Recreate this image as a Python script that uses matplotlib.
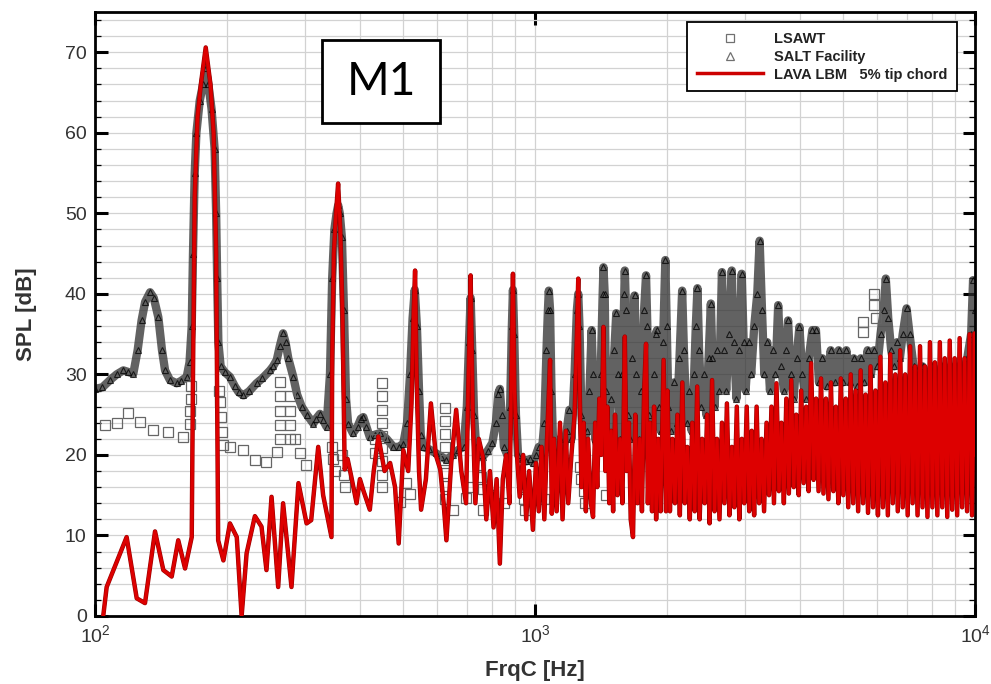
import matplotlib
matplotlib.use("Agg")
import matplotlib.pyplot as plt
import matplotlib.ticker as mticker
from matplotlib.patches import Rectangle
import matplotlib.patheffects as pe

plt.rcParams['font.family'] = ['Liberation Sans', 'DejaVu Sans']

# ---------------- data ----------------
# LSAWT (open squares)
lsawt_f = [105.4, 112, 119, 126.6, 135.6, 146.7, 158.1,
           164, 164, 165, 165,
           191, 192, 193, 194, 195,
           202.6, 217.4, 230.9, 245.3, 258.9,
           263, 263, 263, 263, 263, 277, 277, 277, 277,
           284.8, 292.6, 302,
           345, 348, 352, 365, 368, 370,
           432, 432, 448, 448, 448, 448, 448, 448, 448, 448, 448,
           494, 510, 520,
           625, 625, 625, 625, 625, 625, 625, 625,
           651, 697, 720, 750, 755, 760, 761, 800, 850,
           940, 945, 951, 1000, 1050,
           1265, 1275, 1290, 1300, 1450,
           5560, 5560, 5900, 5900, 5950]
lsawt_spl = [23.7, 24.0, 25.2, 24.1, 23.1, 22.9, 22.2,
             23.9, 25.5, 27.0, 28.6,
             28.0, 26.6, 24.7, 22.8, 21.2,
             21.0, 20.6, 19.4, 19.1, 20.4,
             22.0, 23.7, 25.5, 27.3, 29.0, 22.0, 23.7, 25.5, 27.3,
             22.0, 20.2, 18.7,
             21.0, 19.5, 18.0, 20.0, 17.5, 16.0,
             22.0, 20.3, 28.9, 27.3, 25.6, 24.0, 22.4, 20.8, 19.2, 17.5, 16.0,
             14.2, 16.5, 15.2,
             25.8, 24.2, 22.6, 21.0, 19.4, 17.8, 16.2, 14.5,
             13.2, 14.6, 16.0, 18.8, 17.2, 15.8, 13.2, 15.0, 14.0,
             16.0, 14.5, 13.2, 15.0, 14.5,
             18.5, 17.0, 15.5, 14.0, 15.0,
             36.5, 35.3, 40.0, 38.6, 37.0]

# SALT Facility (open triangles)
salt_f = [100, 104, 108.2, 112, 116, 119, 122.2, 125, 127.6, 130, 133.4, 136, 139.3, 142, 144.3,
          148, 153.3, 157, 161.6, 164, 165.9, 167, 168.5, 170, 173, 176, 178.5, 181, 184, 187,
          188.5, 189.5, 190.7, 193, 197, 202.6, 208, 212, 217.4, 224, 232.9, 240, 249.9, 254, 258.9,
          263, 267.6, 271, 275, 282.2, 288, 294.9, 303, 313.5, 318, 324.5, 330, 335.9, 342, 346,
          350, 354, 357, 360, 364, 368, 372, 376, 385.6, 395, 402, 407.2, 414, 421.3, 432,
          443.7, 460, 476.7, 490, 502, 512, 520, 527, 533, 539, 545, 550, 556, 575, 596,
          612, 629, 650, 668, 688, 700, 708, 714, 720, 727, 735, 750, 761, 780, 800,
          815, 825, 832, 840, 850, 865, 878, 886, 891, 897, 905, 915, 935, 955, 975,
          990, 1005, 1020, 1035, 1050, 1062, 1070, 1075, 1082, 1090, 1100, 1120, 1140, 1160, 1180,
          1197, 1210, 1230, 1245, 1254, 1262, 1275, 1290, 1310, 1330, 1345, 1355, 1370, 1390, 1410,
          1425, 1431, 1440, 1450, 1470, 1490, 1515, 1530, 1545, 1560, 1580, 1595, 1600, 1610, 1625,
          1645, 1665, 1684, 1700, 1720, 1745, 1770, 1788, 1800, 1815, 1835, 1860, 1880, 1894, 1910,
          1930, 1955, 1978, 1992, 2010, 2040, 2070, 2100, 2130, 2160, 2180, 2210, 2240, 2270, 2300,
          2320, 2340, 2360, 2390, 2420, 2450, 2480, 2510, 2530, 2560, 2590, 2620, 2660, 2690, 2720,
          2760, 2800, 2830, 2870, 2910, 2950, 2980, 3010, 3060, 3100, 3150, 3200, 3240, 3280, 3320,
          3370, 3420, 3470, 3520, 3570, 3620, 3680, 3720, 3760, 3810, 3870, 3930, 3990, 4050, 4120,
          4190, 4270, 4350, 4420, 4500, 4600, 4700, 4800, 4900, 5000, 5100, 5200, 5300, 5400, 5500,
          5600, 5700, 5800, 5900, 6000, 6100, 6200, 6270, 6350, 6450, 6550, 6650, 6750, 6850, 6990,
          7100, 7250, 7400, 7600, 7800, 8000, 8200, 8400, 8600, 8800, 9000, 9200, 9400, 9600, 9800,
          9900, 10000]
salt_spl = [28.2, 28.4, 29.3, 30.0, 30.5, 30.3, 30.1, 33, 36.7, 39, 40.2, 39.5, 37.1, 33, 30.5,
            29.3, 28.9, 29.2, 29.7, 31.5, 36, 45, 55, 60, 64, 66, 68, 66, 63, 58,
            50, 42, 34, 31, 30.3, 29.7, 28.5, 27.8, 27.4, 27.9, 28.9, 29.5, 30.5, 31, 31.8,
            33.5, 35.1, 34, 32, 29.7, 27.5, 26.0, 25, 23.9, 24.5, 25.1, 24.3, 23.5, 30, 42,
            48, 50, 51, 50, 47, 38, 27, 23.9, 22.7, 23.5, 24.5, 24.7, 23.5, 22.2, 22.5,
            22.7, 22, 21.0, 21, 21.4, 24, 30, 37, 40.5, 36, 28, 22.5, 21.0, 20.7, 20.2,
            19.8, 19.4, 20, 20.6, 21.0, 26, 34, 39.5, 33, 25, 21, 20, 19.8, 20.5, 21.5,
            24, 27.6, 28.2, 25, 21, 20, 26, 36, 40.5, 35, 25, 20, 19.5, 19.2, 19.5,
            19.0, 20, 21, 20, 24, 33, 38, 40.4, 38, 28, 21, 20, 22, 20.5, 23,
            25.6, 22, 30, 38, 40, 36, 25, 21, 23, 28, 35.5, 30, 22, 21, 30,
            40, 43.3, 40, 28, 21.5, 27, 33, 37.6, 30, 22, 30, 40, 42.9, 38, 25,
            22, 32, 39.8, 30, 22, 28, 38, 42.3, 36, 25, 22.5, 30, 35, 35.5, 26,
            23, 34, 44.2, 36, 26, 23, 29, 24, 32, 40.4, 33, 24, 28, 23, 30,
            36, 40.7, 33, 26, 30, 25, 32, 38.8, 32, 26, 33, 28, 42.7, 33, 28,
            35, 42.9, 34, 27, 33, 42.5, 34, 28, 34, 30, 36, 40, 46.6, 38, 30,
            34, 28, 33, 30, 38.6, 31, 28, 33, 36.7, 30, 27, 32, 35.9, 30, 27,
            32, 35.5, 35.5, 29, 32, 28.5, 33, 29, 33, 29, 33, 29, 32, 28.5, 32,
            29, 33, 30, 33, 31, 35, 38, 41.9, 37, 33, 31, 34, 32, 35, 38.2,
            35, 31, 30.5, 31, 29, 31, 29, 31, 29, 31, 29, 31, 30, 32, 35,
            41.7, 38]

# LAVA LBM 5% tip chord (red line)
lava_f = [104.4, 106.3, 118, 124.4, 129.9, 136.9, 143, 149.4, 154.6, 160.2, 165.9, 167, 168.5, 171,
          174, 178.5, 183, 186, 188.5, 190.5, 195.8, 202.6, 210, 215.4, 221.1, 230.9, 239, 245.3,
          251.9, 260.8, 267.6, 279.6, 290, 302.6, 310, 321.6, 330, 344.7, 346, 349, 353, 356.9,
          361, 365, 368, 369.4, 375, 382.4, 393.1, 400, 407.2, 421.3, 430, 440.5, 455, 468.5,
          480.8, 490, 502,
          515, 524, 530, 533.9, 538, 545, 551, 565, 580, 595, 609, 620, 629, 645, 662, 680,
          697, 705, 714, 722, 732, 745, 761, 775, 790, 805, 818, 832, 845, 860, 875, 884,
          891, 898, 910, 923, 940, 955, 970, 989, 1005, 1020, 1035, 1050, 1065, 1075, 1082, 1092,
          1105, 1120, 1140, 1155, 1175, 1190, 1210, 1230, 1245, 1254, 1262, 1275, 1290, 1305, 1320,
          1340, 1355, 1370, 1385, 1400, 1415, 1431, 1445, 1460, 1475, 1490, 1505, 1520, 1540, 1560,
          1580, 1600, 1615, 1635, 1650, 1670, 1690, 1710, 1730, 1750, 1770, 1788, 1805, 1825, 1845,
          1865, 1885, 1905, 1930, 1960, 1985,
          2000, 2026, 2053, 2080, 2107, 2134, 2162, 2190, 2219, 2248, 2277, 2307, 2337, 2367, 2398,
          2430, 2461, 2493, 2526, 2559, 2592, 2626, 2660, 2695, 2730, 2766, 2802, 2838, 2875, 2913,
          2951, 2989, 3028, 3068, 3108, 3148, 3189, 3231, 3273, 3316, 3359, 3403, 3447, 3492, 3538,
          3584, 3631, 3678, 3726, 3775, 3824, 3874, 3924, 3976, 4027, 4080, 4133, 4187, 4242, 4297,
          4353, 4410, 4467, 4525, 4584, 4644, 4705, 4766, 4828, 4891, 4955, 5019, 5085, 5151, 5218,
          5286, 5355, 5425, 5496, 5567, 5640, 5713, 5788, 5863, 5940, 6017, 6096, 6175, 6256, 6337,
          6420, 6504, 6589, 6675, 6762, 6850, 6939, 7030, 7121, 7214, 7308, 7403, 7500, 7598, 7697,
          7797, 7899, 8002, 8106, 8212, 8319, 8427, 8537, 8649, 8761, 8876, 8991, 9109, 9227, 9348,
          9470, 9593, 9718, 9845, 9973, 10000]
lava_spl = [0, 3.6, 9.8, 2.2, 1.6, 10.5, 5.7, 4.9, 9.4, 5.9, 9.8, 30, 52, 62,
            66, 70.6, 66, 60, 45, 9.4, 6.9, 11.5, 9.8, 0, 7.8, 12.4, 11.1, 5.7,
            14.8, 3.6, 14.0, 3.6, 16.5, 11.5, 11.9, 21.0, 15, 9.8, 32, 45, 50, 53.7,
            48, 38, 24, 18.2, 19.5, 17.3, 14.0, 17, 15.6, 13.2, 18, 22.3, 18, 19.0,
            16.0, 9, 20.6,
            18, 26.4, 38, 42.9, 30, 18, 13.2, 17, 26.4, 20, 18.2, 14, 9.4, 19, 25.6, 18,
            14.0, 28, 42.3, 25, 14.0, 22, 19.8, 12, 18, 11, 17, 6.5, 17, 20, 14, 30,
            42.5, 28, 20, 14.8, 20, 12, 18, 10.7, 19, 13, 21, 12, 22, 28, 31.8, 12.7,
            22, 13, 24, 12, 23, 14, 20, 25, 35, 41.9, 30, 16, 24, 13, 22,
            14, 12.3, 24, 16, 27, 20, 35.9, 18, 26, 14, 23, 13, 25, 15, 22,
            14, 34.7, 18, 24, 12, 9.8, 25, 14, 22, 13, 28, 33.8, 14, 24, 13,
            26, 12, 22, 13, 31.8, 13,
            28, 13, 22, 14, 25, 12.5, 29, 14, 21, 12, 24, 13, 28.5, 12, 22,
            14, 25, 11.5, 29.3, 13, 22, 12, 24, 14, 26.4, 12.5, 21, 13.5, 26, 12,
            22, 14, 26, 13, 23, 12.5, 26, 14, 22, 13, 24, 15, 26, 14, 28.9,
            15.5, 24, 14, 27, 15.2, 29.3, 16, 25, 15, 28, 16.5, 26, 15.5, 31.4, 16.9,
            27, 15.5, 29.5, 15.2, 27, 14.5, 29, 15.5, 26, 14, 29.5, 15, 27, 13.5, 30,
            14, 28, 13, 30.5, 14, 27.5, 12.8, 31, 13.5, 28, 12.5, 32.2, 13.5, 29, 12.5,
            32.5, 14, 30, 13, 33, 13.5, 30, 12.5, 33.5, 14, 31, 12.5, 33.5, 13.5, 31,
            12.3, 34, 13.5, 31.5, 12.5, 34, 13.5, 32, 12.3, 34.2, 13.2, 32, 12.5, 34.5, 13.5,
            32, 13, 35, 12.5, 35.1, 20]

x_ticks = [1e2, 1e3, 1e4]
y_ticks = [0, 10, 20, 30, 40, 50, 60, 70]

# ---------------- figure ----------------
fig = plt.figure(figsize=(9.91, 6.84), dpi=100)
ax = fig.add_axes([95/991, 68/684, 880/991, 604/684])
ax.set_xscale('log')
ax.set_xlim(100, 10000)
ax.set_ylim(0, 75)

# grid
ax.xaxis.set_major_locator(mticker.FixedLocator(x_ticks))
ax.xaxis.set_minor_locator(mticker.LogLocator(base=10, subs=[2, 3, 4, 5, 6, 7, 8, 9]))
ax.yaxis.set_major_locator(mticker.FixedLocator(y_ticks))
ax.yaxis.set_minor_locator(mticker.MultipleLocator(2))
ax.grid(True, which='both', color='#d2d2d2', lw=0.9, zorder=0)
ax.set_axisbelow(True)

# SALT band
ax.plot(salt_f, salt_spl, color='#2e2e2e', lw=6.0, alpha=0.75, zorder=2,
        solid_joinstyle='round', solid_capstyle='round')
ax.plot(salt_f, salt_spl, ls='none', marker='^', ms=5, mfc='none', mec='#000000',
        mew=0.8, alpha=0.75, zorder=3)
# LSAWT squares
ax.plot(lsawt_f, lsawt_spl, ls='none', marker='s', ms=6.5, mfc='none', mec='#666666',
        mew=0.9, zorder=4)
# LAVA LBM
ax.plot(lava_f, lava_spl, color='#dd0000', lw=2.3, zorder=5,
        path_effects=[pe.Stroke(linewidth=3.2, foreground='#9a0000'), pe.Normal()])

# ticks
ax.tick_params(axis='both', which='major', direction='in', length=9, width=2.2,
               top=True, right=True, labelsize=14, labelcolor='#333333', pad=6)
ax.tick_params(axis='y', which='minor', direction='in', length=4, width=0.9, right=True, left=True)
ax.tick_params(axis='x', which='minor', length=0)
ax.xaxis.set_minor_formatter(mticker.NullFormatter())
for s in ax.spines.values():
    s.set_linewidth(2.0)

ax.set_xlabel('FrqC [Hz]', fontsize=16, fontweight='bold', color='#333333', labelpad=10)
ax.set_ylabel('SPL [dB]', fontsize=16, fontweight='bold', color='#333333', labelpad=20)

# legend
h1, = ax.plot([], [], ls='none', marker='s', ms=6, mfc='none', mec='#707070', mew=0.9)
h2, = ax.plot([], [], ls='none', marker='^', ms=6, mfc='none', mec='#707070', mew=0.9)
h3, = ax.plot([], [], color='#cc0000', lw=2.5)
leg = ax.legend([h1, h2, h3], ['LSAWT', 'SALT Facility', 'LAVA LBM   5% tip chord'],
                loc='upper right', bbox_to_anchor=(957/991, 1 - 22/684), bbox_transform=fig.transFigure,
                fancybox=False, framealpha=1, edgecolor='black', prop={'weight': 'bold', 'size': 10.5},
                handlelength=4.5, handletextpad=0.75, labelspacing=0.26, borderpad=0.68,
                borderaxespad=0)
leg.get_frame().set_linewidth(1.3)
for t in leg.get_texts():
    t.set_color('#222222')

# M1 box
fig.patches.append(Rectangle((322/991, 1 - 123/684), 118/991, 83/684, transform=fig.transFigure,
                             facecolor='white', edgecolor='black', lw=2, zorder=10))
fig.text(381/991, 1 - 82/684, 'M1', fontsize=33, family=['Lato', 'DejaVu Sans'], fontweight='normal',
         ha='center', va='center', zorder=11)

fig.savefig('out.png', dpi=100)
